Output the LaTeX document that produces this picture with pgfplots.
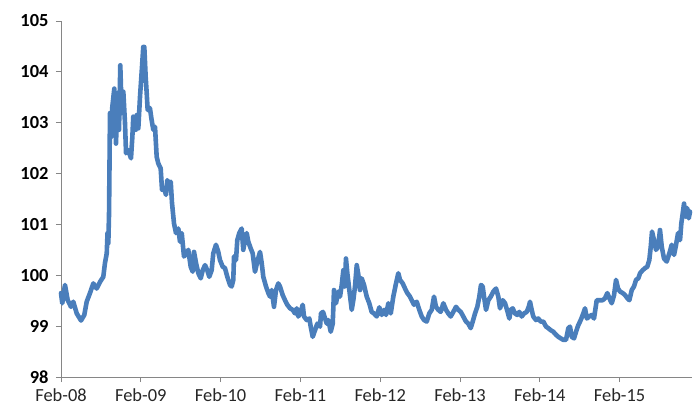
\documentclass[border=0pt]{standalone}
\usepackage{fontspec}
\setmainfont{Carlito}
\usepackage{pgfplots}
\pgfplotsset{compat=1.18}
\definecolor{lineblue}{RGB}{74,126,187}
\definecolor{axgray}{RGB}{134,134,134}
\begin{document}
\begin{tikzpicture}
\begin{axis}[
  scale only axis,
  width=631bp, height=356bp,
  xmin=0, xmax=7.907,
  ymin=98, ymax=105,
  axis x line=bottom, axis y line=left,
  axis line style={-, axgray, line width=1pt},
  tick style={axgray, line width=1pt},
  tick align=outside,
  major tick length=5bp,
  xtick={0,1,2,3,4,5,6,7},
  xticklabels={Feb-08,Feb-09,Feb-10,Feb-11,Feb-12,Feb-13,Feb-14,Feb-15},
  ytick={98,99,100,101,102,103,104,105},
  /pgf/number format/assume math mode=true,
  /pgf/number format/1000 sep={},
  x tick label style={font=\fontsize{18.5}{20}\selectfont, text=black!85, yshift=-3bp},
  y tick label style={font=\fontsize{18.5}{20}\selectfont\bfseries, text=black, xshift=-4bp},
  clip=false,
]
\addplot[lineblue, line width=4.6bp, line join=round, line cap=round] coordinates {
(0.000,99.65)(0.016,99.45)(0.050,99.81)(0.084,99.51)(0.125,99.38)(0.154,99.48)
(0.197,99.25)(0.251,99.11)(0.292,99.22)(0.322,99.48)(0.363,99.65)(0.405,99.84)
(0.447,99.74)(0.489,99.87)(0.530,99.97)(0.551,100.24)(0.573,100.43)(0.583,100.83)
(0.593,100.63)(0.602,101.22)(0.614,103.19)(0.627,102.72)(0.643,103.31)(0.668,103.67)
(0.689,102.59)(0.711,103.58)(0.727,102.86)(0.743,104.13)(0.761,103.19)(0.781,103.61)
(0.802,102.99)(0.815,102.40)(0.843,102.46)(0.877,102.30)(0.894,102.72)(0.906,103.12)
(0.936,102.86)(0.949,103.15)(0.969,102.89)(0.990,103.51)(1.011,104.00)(1.031,104.49)
(1.044,104.49)(1.061,103.90)(1.074,103.58)(1.086,103.25)(1.096,103.30)(1.115,103.28)
(1.136,103.05)(1.157,102.86)(1.178,102.92)(1.199,102.33)(1.219,102.20)(1.249,102.10)
(1.266,101.68)(1.291,101.71)(1.316,101.58)(1.332,101.87)(1.357,101.78)(1.375,101.84)
(1.391,101.42)(1.416,101.02)(1.441,100.83)(1.470,100.92)(1.491,100.66)(1.513,100.83)
(1.541,100.37)(1.575,100.43)(1.595,100.50)(1.625,100.17)(1.650,100.07)(1.667,100.46)
(1.692,100.24)(1.721,100.04)(1.751,99.94)(1.776,100.10)(1.805,100.20)(1.833,100.10)
(1.858,99.97)(1.888,100.10)(1.908,100.43)(1.942,100.60)(1.971,100.46)(1.992,100.30)
(2.026,100.17)(2.055,100.14)(2.084,99.97)(2.118,99.81)(2.139,99.78)(2.159,99.91)
(2.168,100.37)(2.193,100.30)(2.209,100.69)(2.234,100.83)(2.264,100.92)(2.284,100.50)
(2.306,100.69)(2.327,100.83)(2.347,100.66)(2.377,100.53)(2.402,100.43)(2.431,100.07)
(2.460,100.27)(2.494,100.46)(2.515,100.24)(2.535,99.97)(2.569,99.78)(2.598,99.65)
(2.619,99.58)(2.640,99.71)(2.669,99.38)(2.694,99.71)(2.723,99.84)(2.744,99.78)
(2.778,99.61)(2.807,99.51)(2.836,99.42)(2.870,99.35)(2.904,99.32)(2.932,99.25)
(2.954,99.35)(2.974,99.19)(3.004,99.28)(3.029,99.42)(3.045,99.19)(3.079,99.12)
(3.112,99.15)(3.129,98.99)(3.154,98.79)(3.183,98.92)(3.212,99.05)(3.246,98.99)
(3.258,99.25)(3.283,99.28)(3.330,99.05)(3.350,99.12)(3.380,98.89)(3.405,99.05)
(3.421,99.71)(3.446,99.45)(3.475,99.68)(3.496,99.58)(3.518,99.81)(3.538,100.10)
(3.555,99.78)(3.571,100.33)(3.588,100.04)(3.613,99.71)(3.643,99.32)(3.663,99.51)
(3.684,99.78)(3.706,100.20)(3.726,100.01)(3.747,99.71)(3.768,99.94)(3.797,99.81)
(3.831,99.58)(3.863,99.45)(3.893,99.28)(3.922,99.25)(3.956,99.19)(3.989,99.37)
(4.019,99.22)(4.048,99.32)(4.073,99.22)(4.102,99.45)(4.132,99.25)(4.164,99.58)
(4.198,99.84)(4.227,100.04)(4.248,99.91)(4.282,99.84)(4.311,99.74)(4.340,99.65)
(4.373,99.58)(4.395,99.51)(4.424,99.42)(4.457,99.48)(4.490,99.32)(4.520,99.19)
(4.549,99.12)(4.583,99.09)(4.615,99.25)(4.645,99.32)(4.674,99.58)(4.699,99.38)
(4.728,99.32)(4.758,99.28)(4.791,99.45)(4.825,99.32)(4.853,99.25)(4.883,99.19)
(4.916,99.28)(4.950,99.38)(4.979,99.32)(5.009,99.28)(5.041,99.19)(5.075,99.09)
(5.104,99.05)(5.134,98.96)(5.159,99.09)(5.188,99.25)(5.217,99.38)(5.242,99.58)
(5.263,99.81)(5.284,99.78)(5.301,99.58)(5.326,99.32)(5.355,99.51)(5.385,99.58)
(5.417,99.68)(5.451,99.74)(5.480,99.58)(5.501,99.35)(5.535,99.51)(5.564,99.45)
(5.593,99.30)(5.618,99.15)(5.636,99.32)(5.660,99.35)(5.689,99.25)(5.718,99.22)
(5.743,99.28)(5.773,99.19)(5.802,99.25)(5.836,99.28)(5.861,99.38)(5.877,99.48)
(5.898,99.32)(5.918,99.19)(5.952,99.12)(5.981,99.15)(6.011,99.09)(6.044,99.09)
(6.078,98.99)(6.106,98.96)(6.137,98.92)(6.169,98.89)(6.203,98.83)(6.232,98.79)
(6.262,98.76)(6.294,98.73)(6.328,98.73)(6.357,98.96)(6.378,98.99)(6.400,98.79)
(6.429,98.76)(6.454,98.89)(6.482,99.02)(6.513,99.12)(6.545,99.25)(6.566,99.35)
(6.590,99.15)(6.620,99.19)(6.650,99.22)(6.679,99.15)(6.713,99.51)(6.746,99.51)
(6.788,99.51)(6.817,99.55)(6.846,99.65)(6.871,99.55)(6.901,99.45)(6.930,99.61)
(6.955,99.91)(6.980,99.74)(7.005,99.68)(7.039,99.65)(7.068,99.61)(7.097,99.55)
(7.122,99.51)(7.152,99.71)(7.180,99.78)(7.206,99.91)(7.234,99.94)(7.256,100.04)
(7.289,100.10)(7.318,100.14)(7.347,100.17)(7.372,100.30)(7.390,100.56)(7.406,100.86)
(7.431,100.69)(7.456,100.50)(7.481,100.56)(7.506,100.89)(7.528,100.56)(7.556,100.33)
(7.590,100.27)(7.623,100.43)(7.653,100.60)(7.682,100.40)(7.707,100.60)(7.732,100.83)
(7.757,100.69)(7.773,101.02)(7.791,101.22)(7.807,101.41)(7.828,101.15)(7.848,101.32)
(7.866,101.12)(7.882,101.25)
};
\end{axis}
\path[use as bounding box] (-61bp,-32bp) rectangle (636bp,377bp);
\end{tikzpicture}
\end{document}
